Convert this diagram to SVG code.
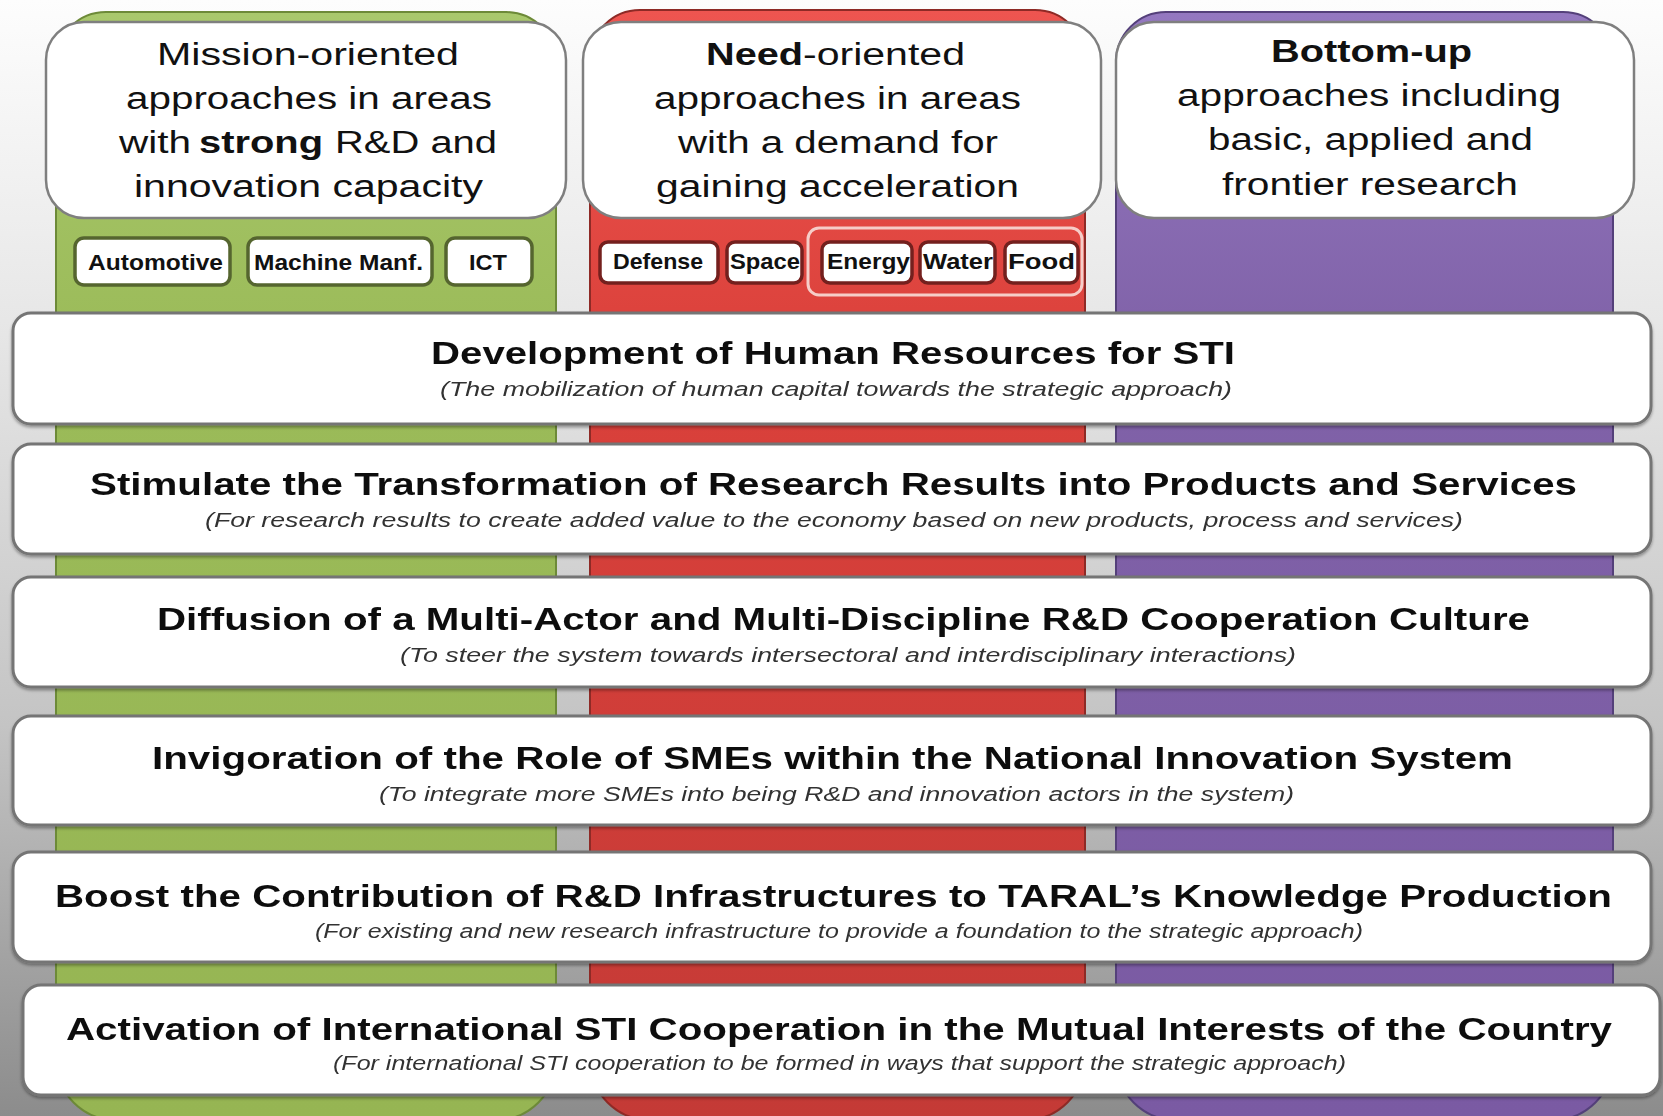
<svg xmlns="http://www.w3.org/2000/svg" width="1663" height="1116" viewBox="0 0 1663 1116">
<defs>
<linearGradient id="bg" x1="0" y1="0" x2="0" y2="1">
<stop offset="0" stop-color="#fdfdfd"/>
<stop offset="0.3" stop-color="#e6e6e6"/>
<stop offset="0.65" stop-color="#c4c4c4"/>
<stop offset="1" stop-color="#8c8c8c"/>
</linearGradient>
<linearGradient id="gGreen" x1="0" y1="0" x2="0" y2="1">
<stop offset="0" stop-color="#a9c86c"/>
<stop offset="0.3" stop-color="#9bbb59"/>
<stop offset="1" stop-color="#96b553"/>
</linearGradient>
<linearGradient id="gRed" x1="0" y1="0" x2="0" y2="1">
<stop offset="0" stop-color="#ee5550"/>
<stop offset="0.3" stop-color="#db413b"/>
<stop offset="1" stop-color="#c43a36"/>
</linearGradient>
<linearGradient id="gPurple" x1="0" y1="0" x2="0" y2="1">
<stop offset="0" stop-color="#9478c0"/>
<stop offset="0.3" stop-color="#8062a8"/>
<stop offset="1" stop-color="#7a5aa3"/>
</linearGradient>
<filter id="sh" x="-5%" y="-20%" width="110%" height="140%">
<feDropShadow dx="0" dy="2" stdDeviation="1.5" flood-color="#000" flood-opacity="0.35"/>
</filter>
</defs>
<style>
text{font-family:"Liberation Sans",Arial,Helvetica,sans-serif;fill:#111}
.hd{font-size:31px}
.hb{font-size:31px;font-weight:bold}
.tag{font-size:22px;font-weight:bold}
.ttl{font-size:32px;font-weight:bold}
.sub{font-size:20px;font-style:italic;fill:#333}
.hbox{fill:#fff;stroke:#7f7f7f;stroke-width:2.5}
.band{fill:#fff;stroke:#747474;stroke-width:3}
.tg{fill:#fff;stroke:#55652f;stroke-width:3.5}
.tr{fill:#fff;stroke:#74201e;stroke-width:3.5}
</style>
<rect x="0" y="0" width="1663" height="1116" fill="url(#bg)"/>

<g id="col-mission">
<path d="M56,62 A50,50 0 0 1 106,12 L506,12 A50,50 0 0 1 556,62 L556,1060 A60,60 0 0 1 496,1120 L116,1120 A60,60 0 0 1 56,1060 Z" fill="url(#gGreen)" stroke="#6d8a38" stroke-width="2"/>
<rect class="hbox" x="46" y="22" width="520" height="196" rx="38"/>
<text class="hd" x="157" y="65" textLength="302" lengthAdjust="spacingAndGlyphs">Mission-oriented</text>
<text class="hd" x="126" y="109" textLength="366" lengthAdjust="spacingAndGlyphs">approaches in areas</text>
<text class="hd" x="119" y="153" textLength="72" lengthAdjust="spacingAndGlyphs">with</text>
<text class="hb" x="199" y="153" textLength="124" lengthAdjust="spacingAndGlyphs">strong</text>
<text class="hd" x="335" y="153" textLength="162" lengthAdjust="spacingAndGlyphs">R&amp;D and</text>
<text class="hd" x="134" y="197" textLength="349" lengthAdjust="spacingAndGlyphs">innovation capacity</text>
<g id="tag-automotive"><rect class="tg" x="75" y="238" width="155" height="47" rx="9"/><text class="tag" x="88" y="270" textLength="135" lengthAdjust="spacingAndGlyphs">Automotive</text></g>
<g id="tag-machine"><rect class="tg" x="248" y="238" width="184" height="47" rx="9"/><text class="tag" x="254" y="270" textLength="169" lengthAdjust="spacingAndGlyphs">Machine Manf.</text></g>
<g id="tag-ict"><rect class="tg" x="446" y="238" width="86" height="47" rx="9"/><text class="tag" x="469" y="270" textLength="38" lengthAdjust="spacingAndGlyphs">ICT</text></g>
</g>

<g id="col-need">
<path d="M590,60 A50,50 0 0 1 640,10 L1035,10 A50,50 0 0 1 1085,60 L1085,1060 A60,60 0 0 1 1025,1120 L650,1120 A60,60 0 0 1 590,1060 Z" fill="url(#gRed)" stroke="#8e2a26" stroke-width="2"/>
<rect class="hbox" x="583" y="22" width="518" height="196" rx="38"/>
<text class="hb" x="706" y="65" textLength="97" lengthAdjust="spacingAndGlyphs">Need</text>
<text class="hd" x="803" y="65" textLength="162" lengthAdjust="spacingAndGlyphs">-oriented</text>
<text class="hd" x="654" y="109" textLength="367" lengthAdjust="spacingAndGlyphs">approaches in areas</text>
<text class="hd" x="678" y="153" textLength="320" lengthAdjust="spacingAndGlyphs">with a demand for</text>
<text class="hd" x="656" y="197" textLength="363" lengthAdjust="spacingAndGlyphs">gaining acceleration</text>
<rect x="808" y="228" width="274" height="67" rx="11" fill="none" stroke="#f6cdc8" stroke-width="3"/>
<g id="tag-defense"><rect class="tr" x="600" y="242" width="118" height="41" rx="8"/><text class="tag" x="613" y="269" textLength="90" lengthAdjust="spacingAndGlyphs">Defense</text></g>
<g id="tag-space"><rect class="tr" x="727" y="242" width="75" height="41" rx="8"/><text class="tag" x="730" y="269" textLength="70" lengthAdjust="spacingAndGlyphs">Space</text></g>
<g id="tag-energy"><rect class="tr" x="822" y="242" width="90" height="41" rx="8"/><text class="tag" x="827" y="269" textLength="83" lengthAdjust="spacingAndGlyphs">Energy</text></g>
<g id="tag-water"><rect class="tr" x="920" y="242" width="75" height="41" rx="8"/><text class="tag" x="923" y="269" textLength="70" lengthAdjust="spacingAndGlyphs">Water</text></g>
<g id="tag-food"><rect class="tr" x="1005" y="242" width="73" height="41" rx="8"/><text class="tag" x="1008" y="269" textLength="67" lengthAdjust="spacingAndGlyphs">Food</text></g>
</g>

<g id="col-bottomup">
<path d="M1116,62 A50,50 0 0 1 1166,12 L1563,12 A50,50 0 0 1 1613,62 L1613,1060 A60,60 0 0 1 1553,1120 L1176,1120 A60,60 0 0 1 1116,1060 Z" fill="url(#gPurple)" stroke="#54407a" stroke-width="2"/>
<rect class="hbox" x="1116" y="22" width="518" height="196" rx="38"/>
<text class="hb" x="1271" y="62" textLength="201" lengthAdjust="spacingAndGlyphs">Bottom-up</text>
<text class="hd" x="1177" y="106" textLength="384" lengthAdjust="spacingAndGlyphs">approaches including</text>
<text class="hd" x="1208" y="150" textLength="325" lengthAdjust="spacingAndGlyphs">basic, applied and</text>
<text class="hd" x="1222" y="195" textLength="296" lengthAdjust="spacingAndGlyphs">frontier research</text>
</g>

<g id="band-1" filter="url(#sh)">
<rect class="band" x="13" y="313" width="1638" height="111" rx="18"/>
<text class="ttl" x="431" y="364" textLength="804" lengthAdjust="spacingAndGlyphs">Development of Human Resources for STI</text>
<text class="sub" x="440" y="396" textLength="792" lengthAdjust="spacingAndGlyphs">(The mobilization of human capital towards the strategic approach)</text>
</g>
<g id="band-2" filter="url(#sh)">
<rect class="band" x="13" y="444" width="1638" height="110" rx="18"/>
<text class="ttl" x="90" y="495" textLength="1487" lengthAdjust="spacingAndGlyphs">Stimulate the Transformation of Research Results into Products and Services</text>
<text class="sub" x="205" y="527" textLength="1258" lengthAdjust="spacingAndGlyphs">(For research results to create added value to the economy based on new products, process and services)</text>
</g>
<g id="band-3" filter="url(#sh)">
<rect class="band" x="13" y="577" width="1638" height="110" rx="18"/>
<text class="ttl" x="157" y="630" textLength="1373" lengthAdjust="spacingAndGlyphs">Diffusion of a Multi-Actor and Multi-Discipline R&amp;D Cooperation Culture</text>
<text class="sub" x="400" y="662" textLength="896" lengthAdjust="spacingAndGlyphs">(To steer the system towards intersectoral and interdisciplinary interactions)</text>
</g>
<g id="band-4" filter="url(#sh)">
<rect class="band" x="13" y="716" width="1638" height="109" rx="18"/>
<text class="ttl" x="152" y="769" textLength="1361" lengthAdjust="spacingAndGlyphs">Invigoration of the Role of SMEs within the National Innovation System</text>
<text class="sub" x="379" y="801" textLength="915" lengthAdjust="spacingAndGlyphs">(To integrate more SMEs into being R&amp;D and innovation actors in the system)</text>
</g>
<g id="band-5" filter="url(#sh)">
<rect class="band" x="13" y="852" width="1638" height="110" rx="18"/>
<text class="ttl" x="55" y="907" textLength="1557" lengthAdjust="spacingAndGlyphs">Boost the Contribution of R&amp;D Infrastructures to TARAL’s Knowledge Production</text>
<text class="sub" x="315" y="938" textLength="1048" lengthAdjust="spacingAndGlyphs">(For existing and new research infrastructure to provide a foundation to the strategic approach)</text>
</g>
<g id="band-6" filter="url(#sh)">
<rect class="band" x="23" y="985" width="1637" height="110" rx="18"/>
<text class="ttl" x="66" y="1040" textLength="1546" lengthAdjust="spacingAndGlyphs">Activation of International STI Cooperation in the Mutual Interests of the Country</text>
<text class="sub" x="333" y="1070" textLength="1013" lengthAdjust="spacingAndGlyphs">(For international STI cooperation to be formed in ways that support the strategic approach)</text>
</g>

<g id="connectors"/>
</svg>
